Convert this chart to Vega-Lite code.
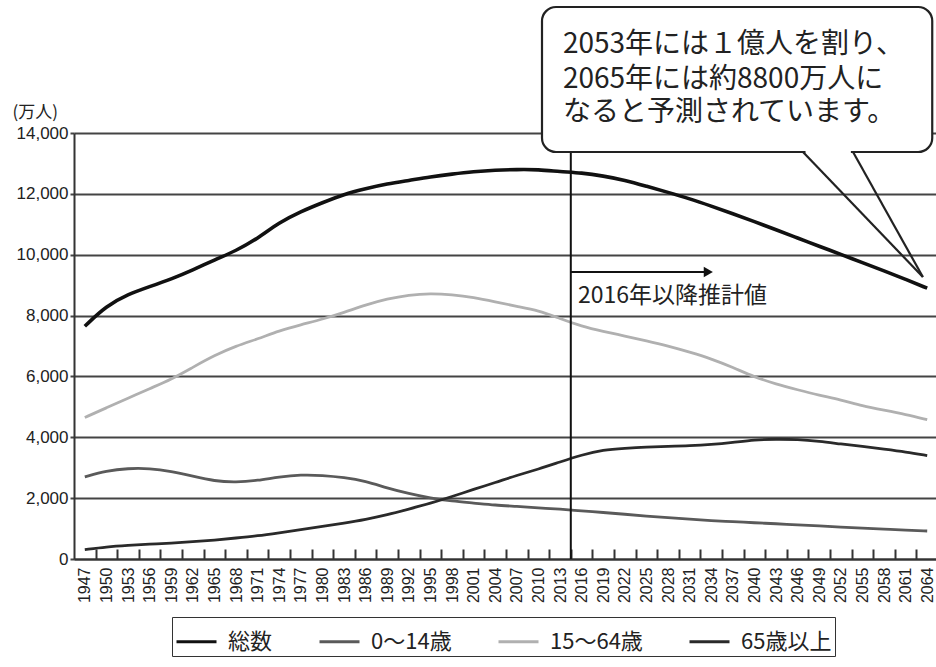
{
  "$schema": "https://vega.github.io/schema/vega-lite/v6.json",
  "width": 864,
  "height": 426,
  "autosize": {"type": "none"},
  "padding": {"left": 74, "top": 133, "right": 0, "bottom": 108},
  "background": "white",
  "config": {
    "view": {"stroke": null},
    "font": "Noto Sans CJK JP"
  },
  "datasets": {
    "pop": [
      {"year": 1947, "総数": 7650, "0〜14歳": 2700, "15〜64歳": 4650, "65歳以上": 310},
      {"year": 1950, "総数": 8320, "0〜14歳": 2900, "15〜64歳": 4970, "65歳以上": 400},
      {"year": 1953, "総数": 8700, "0〜14歳": 2980, "15〜64歳": 5280, "65歳以上": 450},
      {"year": 1956, "総数": 8950, "0〜14歳": 2980, "15〜64歳": 5600, "65歳以上": 490},
      {"year": 1959, "総数": 9200, "0〜14歳": 2880, "15〜64歳": 5900, "65歳以上": 520},
      {"year": 1962, "総数": 9500, "0〜14歳": 2720, "15〜64歳": 6300, "65歳以上": 570},
      {"year": 1965, "総数": 9830, "0〜14歳": 2560, "15〜64歳": 6690, "65歳以上": 620},
      {"year": 1968, "総数": 10130, "0〜14歳": 2520, "15〜64歳": 7000, "65歳以上": 690},
      {"year": 1971, "総数": 10530, "0〜14歳": 2580, "15〜64歳": 7230, "65歳以上": 760},
      {"year": 1974, "総数": 11060, "0〜14歳": 2700, "15〜64歳": 7500, "65歳以上": 860},
      {"year": 1977, "総数": 11420, "0〜14歳": 2770, "15〜64歳": 7700, "65歳以上": 960},
      {"year": 1980, "総数": 11710, "0〜14歳": 2750, "15〜64歳": 7880, "65歳以上": 1070},
      {"year": 1983, "総数": 11990, "0〜14歳": 2680, "15〜64歳": 8100, "65歳以上": 1180},
      {"year": 1986, "総数": 12170, "0〜14歳": 2560, "15〜64歳": 8350, "65歳以上": 1300},
      {"year": 1989, "総数": 12330, "0〜14歳": 2330, "15〜64歳": 8550, "65歳以上": 1450},
      {"year": 1992, "総数": 12440, "0〜14歳": 2150, "15〜64歳": 8680, "65歳以上": 1640},
      {"year": 1995, "総数": 12560, "0〜14歳": 2000, "15〜64歳": 8730, "65歳以上": 1830},
      {"year": 1998, "総数": 12650, "0〜14歳": 1900, "15〜64歳": 8690, "65歳以上": 2050},
      {"year": 2001, "総数": 12730, "0〜14歳": 1840, "15〜64歳": 8600, "65歳以上": 2290},
      {"year": 2004, "総数": 12780, "0〜14歳": 1770, "15〜64歳": 8450, "65歳以上": 2510},
      {"year": 2007, "総数": 12800, "0〜14歳": 1730, "15〜64歳": 8300, "65歳以上": 2750},
      {"year": 2010, "総数": 12800, "0〜14歳": 1680, "15〜64歳": 8170, "65歳以上": 2950},
      {"year": 2013, "総数": 12730, "0〜14歳": 1640, "15〜64歳": 7900, "65歳以上": 3190},
      {"year": 2016, "総数": 12690, "0〜14歳": 1580, "15〜64歳": 7650, "65歳以上": 3420},
      {"year": 2019, "総数": 12590, "0〜14歳": 1530, "15〜64歳": 7480, "65歳以上": 3590},
      {"year": 2022, "総数": 12450, "0〜14歳": 1470, "15〜64歳": 7330, "65歳以上": 3640},
      {"year": 2025, "総数": 12250, "0〜14歳": 1410, "15〜64歳": 7170, "65歳以上": 3680},
      {"year": 2028, "総数": 12050, "0〜14歳": 1360, "15〜64歳": 7000, "65歳以上": 3700},
      {"year": 2031, "総数": 11840, "0〜14歳": 1310, "15〜64歳": 6800, "65歳以上": 3720},
      {"year": 2034, "総数": 11600, "0〜14歳": 1260, "15〜64歳": 6580, "65歳以上": 3760},
      {"year": 2037, "総数": 11350, "0〜14歳": 1230, "15〜64歳": 6300, "65歳以上": 3830},
      {"year": 2040, "総数": 11090, "0〜14歳": 1190, "15〜64歳": 5980, "65歳以上": 3920},
      {"year": 2043, "総数": 10820, "0〜14歳": 1160, "15〜64歳": 5750, "65歳以上": 3940},
      {"year": 2046, "総数": 10550, "0〜14歳": 1120, "15〜64歳": 5560, "65歳以上": 3930},
      {"year": 2049, "総数": 10280, "0〜14歳": 1090, "15〜64歳": 5380, "65歳以上": 3870},
      {"year": 2052, "総数": 10010, "0〜14歳": 1050, "15〜64歳": 5230, "65歳以上": 3780},
      {"year": 2055, "総数": 9740, "0〜14歳": 1010, "15〜64歳": 5030, "65歳以上": 3700},
      {"year": 2058, "総数": 9470, "0〜14歳": 980, "15〜64歳": 4890, "65歳以上": 3610},
      {"year": 2061, "総数": 9190, "0〜14歳": 950, "15〜64歳": 4750, "65歳以上": 3520},
      {"year": 2064, "総数": 8900, "0〜14歳": 920, "15〜64歳": 4580, "65歳以上": 3400}
    ],
    "divider": [{"year": 2014.5, "low": 0, "high": 14000}],
    "arrow": [{"from": 2014.5, "to": 2033, "level": 9432}],
    "arrowHead": [{"at": 2033.6, "level": 9432}],
    "note": [{"at": 2015.5, "level": 8643, "text": "2016年以降推計値"}],
    "box": [{"left": 2010.5, "right": 2064.7, "bottom": 13376, "top": 18141}],
    "gap": [{"from": 2047.1, "to": 2053.4, "level": 13376}],
    "tail": [
      {"x1": 2046.75, "y1": 13376, "x2": 2063.4, "y2": 9268},
      {"x1": 2053.7, "y1": 13376, "x2": 2063.4, "y2": 9268}
    ],
    "boxText": [
      {"at": 2013.4, "level": 16892, "text": "2053年には１億人を割り、"},
      {"at": 2013.4, "level": 15742, "text": "2065年には約8800万人に"},
      {"at": 2013.4, "level": 14657, "text": "なると予測されています。"}
    ]
  },
  "layer": [
    {
      "data": {"name": "pop"},
      "transform": [
        {"fold": ["総数", "0〜14歳", "15〜64歳", "65歳以上"], "as": ["group", "value"]},
        {"filter": "datum.group !== '総数'"}
      ],
      "mark": {"type": "line", "interpolate": "basis", "strokeWidth": 2.8},
      "encoding": {
        "x": {
          "field": "year", "type": "quantitative", "title": null,
          "scale": {"domain": [1945.5, 2065.5], "nice": false, "zero": false},
          "axis": {
            "title": null,
            "values": [1948.5, 1951.5, 1954.5, 1957.5, 1960.5, 1963.5, 1966.5, 1969.5, 1972.5, 1975.5, 1978.5, 1981.5, 1984.5, 1987.5, 1990.5, 1993.5, 1996.5, 1999.5, 2002.5, 2005.5, 2008.5, 2011.5, 2014.5, 2017.5, 2020.5, 2023.5, 2026.5, 2029.5, 2032.5, 2035.5, 2038.5, 2041.5, 2044.5, 2047.5, 2050.5, 2053.5, 2056.5, 2059.5, 2062.5, 2065.5],
            "tickCount": 60,
            "labelExpr": "format(datum.value - 1.5, 'd')",
            "labelOffset": -10.8,
            "labelAngle": -90,
            "labelAlign": "right",
            "labelBaseline": "middle",
            "labelFont": "Liberation Sans",
            "labelFontSize": 16,
            "labelColor": "#222",
            "labelPadding": 18,
            "labelOverlap": false,
            "labelFlush": false,
            "tickSize": -10,
            "tickWidth": 2,
            "tickColor": "#333",
            "domainColor": "#333",
            "domainWidth": 2,
            "grid": false
          }
        },
        "y": {
          "field": "value", "type": "quantitative", "title": "(万人)",
          "scale": {"domain": [0, 14000], "nice": false},
          "axis": {
            "values": [0, 2000, 4000, 6000, 8000, 10000, 12000, 14000],
            "format": ",d",
            "titleAngle": 0,
            "titleAlign": "left",
            "titleBaseline": "middle",
            "titleX": -62,
            "titleY": -21,
            "titleFontSize": 17,
            "titleFontWeight": "normal",
            "titleColor": "#222",
            "titleFont": "Noto Sans CJK JP",
            "labelFont": "Liberation Sans",
            "labelFontSize": 17,
            "labelColor": "#222",
            "labelPadding": 2,
            "tickSize": 4,
            "tickWidth": 2,
            "tickColor": "#444",
            "domainColor": "#333",
            "domainWidth": 2,
            "grid": true,
            "gridColor": "#444",
            "gridWidth": 2
          }
        },
        "color": {
          "field": "group", "type": "nominal",
          "scale": {"domain": ["総数", "0〜14歳", "15〜64歳", "65歳以上"], "range": ["#111111", "#5a5a5a", "#b0b0b0", "#2a2a2a"]},
          "legend": {
            "title": null,
            "orient": "none",
            "legendX": 98,
            "legendY": 484,
            "direction": "horizontal",
            "symbolType": "stroke",
            "symbolSize": 1600,
            "symbolStrokeWidth": 3,
            "labelFontSize": 22,
            "labelFont": "Noto Sans CJK JP",
            "labelColor": "#222",
            "labelOffset": 10,
            "columnPadding": 40,
            "padding": 3,
            "strokeColor": "#333"
          }
        }
      }
    },
    {
      "data": {"name": "pop"},
      "transform": [
        {"fold": ["総数", "0〜14歳", "15〜64歳", "65歳以上"], "as": ["group", "value"]},
        {"filter": "datum.group === '総数'"}
      ],
      "mark": {"type": "line", "interpolate": "basis", "strokeWidth": 3.6},
      "encoding": {
        "x": {"field": "year", "type": "quantitative", "title": null},
        "y": {"field": "value", "type": "quantitative", "title": "(万人)"},
        "color": {"field": "group", "type": "nominal"}
      }
    },
    {
      "data": {"name": "divider"},
      "mark": {"type": "rule", "color": "#111", "strokeWidth": 2},
      "encoding": {
        "x": {"field": "year", "type": "quantitative", "title": null},
        "y": {"field": "low", "type": "quantitative", "title": "(万人)"},
        "y2": {"field": "high"}
      }
    },
    {
      "data": {"name": "arrow"},
      "mark": {"type": "rule", "color": "#111", "strokeWidth": 2},
      "encoding": {
        "x": {"field": "from", "type": "quantitative", "title": null},
        "x2": {"field": "to"},
        "y": {"field": "level", "type": "quantitative", "title": "(万人)"}
      }
    },
    {
      "data": {"name": "arrowHead"},
      "mark": {"type": "point", "shape": "triangle-right", "filled": true, "color": "#111", "size": 110, "opacity": 1},
      "encoding": {
        "x": {"field": "at", "type": "quantitative", "title": null},
        "y": {"field": "level", "type": "quantitative", "title": "(万人)"}
      }
    },
    {
      "data": {"name": "note"},
      "mark": {"type": "text", "align": "left", "baseline": "middle", "fontSize": 23, "font": "Noto Sans CJK JP", "color": "#222"},
      "encoding": {
        "x": {"field": "at", "type": "quantitative", "title": null},
        "y": {"field": "level", "type": "quantitative", "title": "(万人)"},
        "text": {"field": "text"}
      }
    },
    {
      "data": {"name": "box"},
      "mark": {"type": "rect", "fill": "white", "stroke": "#222", "strokeWidth": 2.2, "cornerRadius": 14},
      "encoding": {
        "x": {"field": "left", "type": "quantitative", "title": null},
        "x2": {"field": "right"},
        "y": {"field": "bottom", "type": "quantitative", "title": "(万人)"},
        "y2": {"field": "top"}
      }
    },
    {
      "data": {"name": "gap"},
      "mark": {"type": "rule", "color": "white", "strokeWidth": 5},
      "encoding": {
        "x": {"field": "from", "type": "quantitative", "title": null},
        "x2": {"field": "to"},
        "y": {"field": "level", "type": "quantitative", "title": "(万人)"}
      }
    },
    {
      "data": {"name": "tail"},
      "mark": {"type": "rule", "color": "#222", "strokeWidth": 2.2},
      "encoding": {
        "x": {"field": "x1", "type": "quantitative", "title": null},
        "x2": {"field": "x2"},
        "y": {"field": "y1", "type": "quantitative", "title": "(万人)"},
        "y2": {"field": "y2"}
      }
    },
    {
      "data": {"name": "boxText"},
      "mark": {"type": "text", "align": "left", "baseline": "middle", "fontSize": 28, "font": "Noto Sans CJK JP", "color": "#222"},
      "encoding": {
        "x": {"field": "at", "type": "quantitative", "title": null},
        "y": {"field": "level", "type": "quantitative", "title": "(万人)"},
        "text": {"field": "text"}
      }
    }
  ]
}
